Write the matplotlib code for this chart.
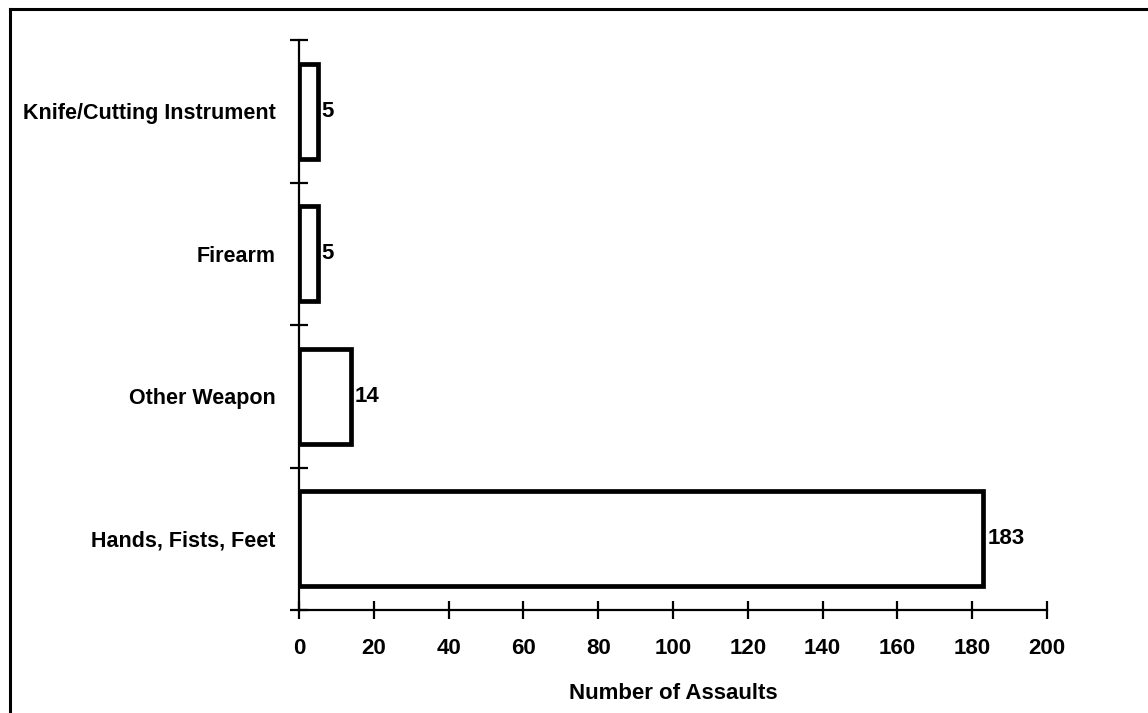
import matplotlib.pyplot as plt
from matplotlib.lines import Line2D

plt.rcParams['font.family'] = ['Liberation Sans', 'DejaVu Sans']
plt.rcParams['font.weight'] = 'bold'

categories = ['Hands, Fists, Feet', 'Other Weapon', 'Firearm', 'Knife/Cutting Instrument']
assaults = [183, 14, 5, 5]
x_ticks = [0, 20, 40, 60, 80, 100, 120, 140, 160, 180, 200]

fig = plt.figure(figsize=(11.48, 7.13), dpi=100)
ax = fig.add_axes([299 / 1148, 103 / 713, 748 / 1148, 570 / 713])

# frame around the picture (only left and top are visible in the original)
fig.add_artist(Line2D([9.5 / 1148, 9.5 / 1148], [0, 1 - 8.5 / 713], color='black', lw=2.2,
                      transform=fig.transFigure))
fig.add_artist(Line2D([9.5 / 1148, 1], [1 - 8.5 / 713, 1 - 8.5 / 713], color='black', lw=2.2,
                      transform=fig.transFigure))

pos = list(range(len(categories)))
bars = ax.barh(pos, assaults, height=0.67, color='white', edgecolor='black', linewidth=3.4)

for y, v in zip(pos, assaults):
    ax.text(v + 1.0, y, str(v), va='center', ha='left', fontsize=16, fontweight='bold')

ax.set_xlim(0, 200)
ax.set_ylim(-0.5, len(categories) - 0.5)
ax.set_xticks(x_ticks)
ax.set_xticklabels([str(t) for t in x_ticks], fontsize=16, fontweight='bold')
ax.tick_params(axis='x', direction='inout', length=13, width=1.6, pad=14)

ax.set_yticks([p - 0.5 for p in pos] + [len(categories) - 0.5])
ax.set_yticklabels([])
ax.tick_params(axis='y', which='major', direction='inout', length=13, width=1.6)
ax.set_yticks(pos, minor=True)
ax.set_yticklabels(categories, minor=True, fontsize=15.5, fontweight='bold')
ax.tick_params(axis='y', which='minor', length=0, pad=17)

for s in ['top', 'right']:
    ax.spines[s].set_visible(False)
for s in ['left', 'bottom']:
    ax.spines[s].set_linewidth(1.6)

ax.set_xlabel('Number of Assaults', fontsize=16, fontweight='bold', labelpad=17)

fig.savefig('out.png', dpi=100)
